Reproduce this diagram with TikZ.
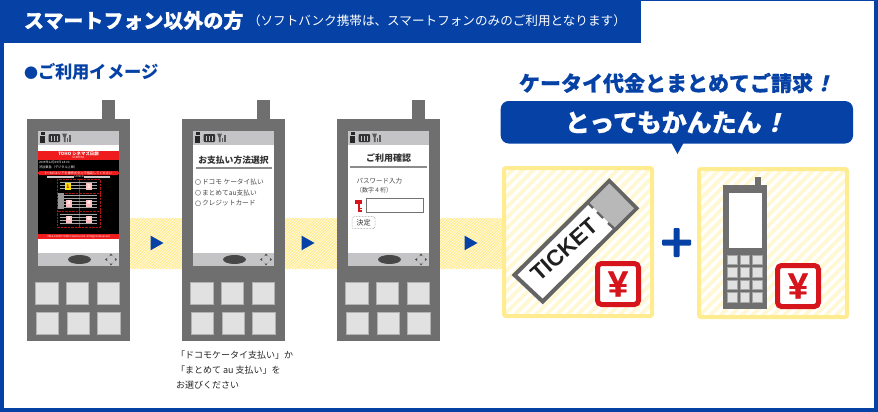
\documentclass[tikz,border=0pt]{standalone}
\usepackage{fontspec}
\setmainfont{Liberation Sans}
\newfontfamily\cjk{Noto Sans CJK JP}
\newfontfamily\cjkheavy[FakeBold=0.6]{Noto Sans CJK JP}
\newfontfamily\cjkslant[FakeSlant=0.25,FakeBold=0.6]{Noto Sans CJK JP}
\newfontfamily\latinheavy[FakeBold=0.8]{Liberation Sans}
\definecolor{brandblue}{HTML}{0642A6}
\definecolor{bodygrey}{HTML}{6F6F6F}
\definecolor{keygrey}{HTML}{E1E1E1}
\definecolor{barsilver}{HTML}{C4C4C6}
\definecolor{softyellow}{HTML}{FFEC90}
\definecolor{paleyellow}{HTML}{FFF8D2}
\definecolor{stampred}{HTML}{D5141C}
\definecolor{screenred}{HTML}{EE1C1C}
\tikzset{
  fs/.style={font={\cjk\fontsize{#1}{#1}\selectfont},inner sep=0pt,outer sep=0pt},
  fsb/.style={font={\cjk\bfseries\fontsize{#1}{#1}\selectfont},inner sep=0pt,outer sep=0pt},
  fsh/.style={font={\cjkheavy\bfseries\fontsize{#1}{#1}\selectfont},inner sep=0pt,outer sep=0pt},
  keycap/.style={fill=keygrey,draw=#1,line width=0.5pt},
  keycap/.default={black!30}
}
% diagonal hatching inside a rectangle: x1,y1,x2,y2,spacing,width,colour
\newcommand{\hatchrect}[7]{
  \begin{scope}
    \clip (#1,#2) rectangle (#3,#4);
    \pgfmathsetmacro{\hatchend}{#3-#1+#4-#2+#5}
    \foreach \d in {0,#5,...,\hatchend}
      \draw[#7,line width=#6] ({#1+\d},#2) -- ({#1+\d-(#4-#2)},#4);
  \end{scope}
}
% flow band between two handsets, with its arrow at x=#3
\newcommand{\flowband}[3]{
  \hatchrect{#1}{218}{#2}{269}{2.9}{1.25pt}{softyellow}
  \fill[brandblue] (#3,235.7) -- (#3+12.8,243) -- (#3,250.2) -- cycle;
}
% handset with empty screen, left edge at x=#1
\newcommand{\handset}[1]{
  \begin{scope}[xshift=#1]
    \fill[bodygrey] (75,100) rectangle (88,120);
    \fill[bodygrey] (0,118.5) rectangle (103,341);
    \fill[white] (11,131) rectangle (92,266);
    \fill[barsilver] (11,131) rectangle (92,145);
    \fill[barsilver] (11,253) rectangle (92,266);
    % status icons
    \fill[black!85] (13,135.5) rectangle (18,142.5);
    \fill[black!85] (13.5,132) rectangle (17.5,134.5);
    \fill[black!80,rounded corners=1pt] (21.5,134) rectangle (33,142);
    \foreach \bx in {24,27,30}
      \fill[barsilver] (\bx,135.5) rectangle (\bx+1,140.5);
    \fill[black!65] (35,133.5) -- (40,133.5) -- (38.5,137.5) -- (38.5,142) -- (36.8,142) -- (36.8,137.5) -- cycle;
    \fill[black!65] (40,138) rectangle (41.3,142);
    \fill[black!65] (42.2,134.5) rectangle (44,142);
    % navigation controls
    \fill[black!72] (52.5,259.5) ellipse (11.5 and 4.5);
    \draw[black!35,line width=0.5pt,densely dotted] (84,259.5) circle (4);
    \fill[black!70] (84,253.5) -- (85.5,255.5) -- (82.5,255.5) -- cycle;
    \fill[black!70] (84,265.5) -- (85.5,263.5) -- (82.5,263.5) -- cycle;
    \fill[black!70] (78,259.5) -- (80,258) -- (80,261) -- cycle;
    \fill[black!70] (90,259.5) -- (88,258) -- (88,261) -- cycle;
    % keypad
    \foreach \kx in {8.3,39,70}
      \draw[keycap] (\kx,282) rectangle (\kx+22.7,304);
    \foreach \kx in {9,40,70.7}
      \draw[keycap] (\kx,312) rectangle (\kx+22.7,334);
  \end{scope}
}
% numbered seat block marker in the theatre screen
\newcommand{\badge}[5]{
  \fill[#4] (#2-3,#3-3.5) rectangle (#2+3,#3+3.5);
  \node[fsb=5,text=#5] (badge#1) at (#2,#3) {#1};
}
\begin{document}
\begin{tikzpicture}[x=1pt,y=-1pt]
\useasboundingbox (0,0) rectangle (878,412);
\fill[white] (0,0) rectangle (878,412);

% page frame and header
\fill[brandblue] (0,0) rectangle (4,412);
\fill[brandblue] (874,0) rectangle (878,412);
\fill[brandblue] (0,407.5) rectangle (878,412);
\fill[brandblue] (0,0) rectangle (641,43);
\fill[brandblue] (641,0) rectangle (878,0.8);
\node[fsh=20,text=white,anchor=west] (headline) at (24,20.5) {スマートフォン以外の方};
\node[fs=12.6,text=white,anchor=west] (headnote) at (248,20.5) {（ソフトバンク携帯は、スマートフォンのみのご利用となります）};
\node[fsb=17.3,text=brandblue,anchor=west] (imagelabel) at (24,72) {{\fontsize{14}{14}\selectfont ●}ご利用イメージ};

% flow bands
\flowband{130}{182}{150.7}
\flowband{285}{337}{301.7}
\flowband{440}{503}{464.7}

% handsets
\handset{27pt}
\handset{182pt}
\handset{337pt}

% first screen: theatre seat picker
\fill[screenred] (38,150.7) rectangle (119,160);
\fill[black] (38,160) rectangle (119,234);
\fill[screenred] (38,234) rectangle (119,239.4);
\node[fsb=4.4,text=white] (theatre) at (78.5,153.4) {TOHO シネマズ日劇};
\node[fs=2.8,text=white] (screenname) at (78.5,157.8) {SCREEN1};
\node[fs=3,text=white,anchor=west] (showtime) at (39,162.5) {2009年12月19日 18:00};
\node[fs=3.2,text=white,anchor=west] (showtype) at (39,167) {渋谷東急（デジタル上映）};
\fill[screenred,rounded corners=1.5pt] (38,171) rectangle (119,175);
\node[fs=3.2,text=white] (pickhint) at (78.5,173) {1〜6のエリアを操作ボタンで指定してください};
\fill[black!20] (47,176) rectangle (74,177.6);
\fill[black!20] (84,176) rectangle (110,177.6);
\node[fs=2.4,text=white] (screenword) at (79,176.8) {SCREEN};
\draw[screenred!75!black,line width=0.4pt,densely dotted] (57.5,179) rectangle (100,227.5);
\draw[screenred!80!black,line width=0.4pt] (78.7,179) -- (78.7,227.5);
\draw[screenred!70!black,line width=0.4pt,densely dotted] (57.5,192.7) -- (100,192.7);
\draw[screenred!70!black,line width=0.4pt,densely dotted] (57.5,211) -- (100,211);
\foreach \ry in {182,185,188,195,198,201,204,207,214,217,220,223}
  \fill[black!35] (60,\ry) rectangle (97,\ry+1.2);
\fill[black!40] (58,192.5) rectangle (64,209);
\badge{1}{68}{186.5}{yellow!90!orange}{stampred}
\badge{2}{89}{186.5}{white!75!red}{white}
\badge{3}{69}{203}{white!75!red}{white}
\badge{4}{89}{203}{white!75!red}{white}
\badge{5}{69}{219}{white!75!red}{white}
\badge{6}{89}{219}{white!75!red}{white}
\node[fs=2.6,text=white] (copyright) at (78.5,236.7) {TM \& ©2009 TOHO Cinemas Ltd. All Rights Reserved};

% second screen: payment method
\node[fsb=8.8,text=black!80] (paytitle) at (233.5,160) {お支払い方法選択};
\fill[black!45] (196,167.2) rectangle (272,168.8);
\foreach \oy/\ot/\on in {182/ドコモ ケータイ払い/pay1,192.7/まとめてau支払い/pay2,203.3/クレジットカード/pay3}{
  \draw[black!45,line width=0.6pt] (198,\oy) circle (2.6);
  \node[fs=6.7,text=black!72,anchor=west] (\on) at (202,\oy) {\ot};
}

% third screen: password entry
\node[fsb=9,text=black!80] (confirmtitle) at (388.5,158) {ご利用確認};
\fill[black!45] (350,166) rectangle (427,167.5);
\node[fs=6.5,text=black!72,anchor=west] (pwlabel) at (356.5,181) {パスワード入力};
\node[fs=6,text=black!72,anchor=west] (pwdigits) at (356,190.7) {（数字４桁）};
\fill[stampred] (355,199.5) rectangle (362,204);
\fill[stampred] (357.5,204) rectangle (359.8,212);
\fill[stampred] (359.8,207.5) rectangle (361.5,209);
\fill[stampred] (359.8,210) rectangle (361.5,211.5);
\draw[black!55,line width=0.9pt] (366,198.5) rectangle (423,212);
\node[fs=7.2,text=black!80,draw=black!55,densely dotted,line width=0.5pt,rounded corners=2pt,minimum width=23pt,minimum height=12pt] (decide) at (363.5,222.7) {決定};

% note under the second handset
\node[fs=9,text=black!85,anchor=west] (note1) at (176,355) {「ドコモケータイ支払い」か};
\node[fs=9,text=black!85,anchor=west] (note2) at (176,370) {「まとめて au 支払い」を};
\node[fs=9,text=black!85,anchor=west] (note3) at (176,385) {お選びください};

% speech bubble
\node[fsh=21,text=brandblue,anchor=west] (billing) at (519,83) {ケータイ代金とまとめてご請求{\cjkslant\bfseries ！}};
\fill[brandblue,rounded corners=8pt] (500.7,101) rectangle (853,143.5);
\fill[brandblue] (671.5,143) -- (683.5,143) -- (677.5,154) -- cycle;
\node[fsh=25,text=white,anchor=west] (easy) at (565,122.5) {とってもかんたん{\cjkslant\bfseries ！}};

% ticket panel
\hatchrect{504}{168}{652}{316}{10.5}{3.6pt}{paleyellow}
\draw[softyellow,line width=4pt,rounded corners=2pt] (504,168) rectangle (652,316);
\filldraw[fill=white,draw=bodygrey!90!black,line width=4pt,line join=miter]
  (514.5,275) -- (609.3,181) -- (636.5,208.3) -- (542.7,301.5) -- cycle;
\fill[black!28] (609.3,183.5) -- (634,208.3) -- (614,228) -- (589.5,203.5) -- cycle;
\draw[bodygrey!90!black,line width=2.4pt] (588,203) -- (593,208);
\draw[bodygrey!90!black,line width=2.4pt] (597,212) -- (603,218);
\draw[bodygrey!90!black,line width=2.4pt] (608,223) -- (614,228.5);
\node[font=\bfseries\fontsize{22.5}{22.5}\selectfont,text=black!88,inner sep=0pt,rotate=42] (ticketword) at (564.5,250) {TICKET};
\filldraw[fill=white,draw=stampred,line width=5pt,rounded corners=4pt] (597.5,263.5) rectangle (638.5,304.5);
\node[font=\latinheavy\bfseries\fontsize{36}{36}\selectfont,text=stampred,inner sep=0pt] (yenA) at (618,284) {¥};

% plus sign
\fill[brandblue,rounded corners=1pt] (662,239.5) rectangle (691,245.5);
\fill[brandblue,rounded corners=1pt] (673.5,228) rectangle (679.5,257);

% handset panel
\hatchrect{699}{169}{847}{317}{10.5}{3.6pt}{paleyellow}
\draw[softyellow,line width=4pt,rounded corners=2pt] (699,169) rectangle (847,317);
\fill[bodygrey] (755,177) rectangle (761,186);
\fill[bodygrey] (723,185) rectangle (767,309);
\fill[white] (729,192.5) rectangle (761.5,248);
\foreach \ky in {255,267.5,280,292.7}
  \foreach \kx in {727.5,740,752.5}
    \draw[keycap=black!35] (\kx,\ky) rectangle (\kx+9.5,\ky+9.3);
\filldraw[fill=white,draw=stampred,line width=5pt,rounded corners=4pt] (777.5,265.5) rectangle (818.5,306.5);
\node[font=\latinheavy\bfseries\fontsize{36}{36}\selectfont,text=stampred,inner sep=0pt] (yenB) at (798,286) {¥};
\end{tikzpicture}
\end{document}
